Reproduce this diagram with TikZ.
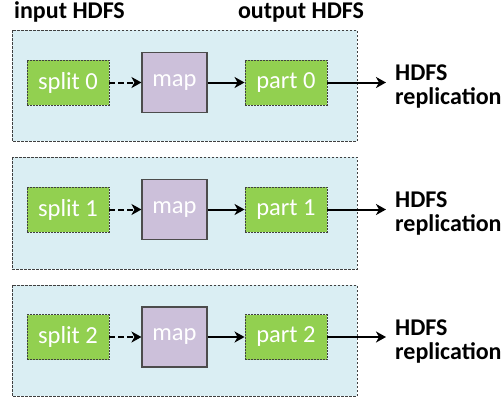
\documentclass[tikz,border=0pt]{standalone}
\usepackage{fontspec}
\setmainfont{Carlito}
\usetikzlibrary{arrows.meta}
\definecolor{panelblue}{HTML}{DAEEF3}
\definecolor{datagreen}{HTML}{92D050}
\definecolor{maplilac}{HTML}{CCC0DA}
\begin{document}
\begin{tikzpicture}[x=1pt,y=-1pt,
  panel/.style={draw=black!75,dash pattern=on 2.5pt off 1.5pt,line width=0.9pt,fill=panelblue},
  databox/.style={draw=black!75,dash pattern=on 2pt off 1pt,line width=0.9pt,fill=datagreen,text=white,
    minimum width=82pt,minimum height=45pt,inner sep=0pt,font=\fontsize{24.5}{25}\selectfont},
  mapbox/.style={draw=black!70,line width=1.1pt,fill=maplilac,text=white,
    minimum width=65pt,minimum height=60pt,inner sep=0pt,font=\fontsize{24.5}{25}\selectfont},
  flow/.style={line width=2pt,-{Stealth[length=10pt,width=11pt,inset=3pt]}},
  hdfstext/.style={font=\bfseries\fontsize{24}{24}\selectfont,align=left,inner sep=0pt}]
\useasboundingbox (0,0) rectangle (504,400);
% headings
\node[hdfstext,anchor=base west] (inhdfs) at (14,18.5) {input HDFS};
\node[hdfstext,anchor=base] (outhdfs) at (301,18.5) {output HDFS};
% panels
\draw[panel] (12,30) rectangle (357,141);
\draw[panel] (12,157) rectangle (357,269);
\draw[panel] (12,285) rectangle (357,396);
% row 0
\node[databox] (split0) at (68,82.5) {split 0};
\node[mapbox] (map0) at (174.5,82.5) {map};
\node[databox] (part0) at (286,82.5) {part 0};
\coordinate (out0) at (386,82.5);
\node[hdfstext,anchor=west] (repl0) at (395,87) {HDFS\\replication};
\draw[flow,dash pattern=on 6pt off 3pt] (split0)--(map0);
\draw[flow] (map0)--(part0);
\draw[flow] (part0)--(out0);
% row 1
\node[databox] (split1) at (68,209.5) {split 1};
\node[mapbox] (map1) at (174.5,209.5) {map};
\node[databox] (part1) at (286,209.5) {part 1};
\coordinate (out1) at (386,209.5);
\node[hdfstext,anchor=west] (repl1) at (395,214) {HDFS\\replication};
\draw[flow,dash pattern=on 6pt off 3pt] (split1)--(map1);
\draw[flow] (map1)--(part1);
\draw[flow] (part1)--(out1);
% row 2
\node[databox] (split2) at (68,337) {split 2};
\node[mapbox] (map2) at (174.5,337) {map};
\node[databox] (part2) at (286,337) {part 2};
\coordinate (out2) at (386,337);
\node[hdfstext,anchor=west] (repl2) at (395,341.5) {HDFS\\replication};
\draw[flow,dash pattern=on 6pt off 3pt] (split2)--(map2);
\draw[flow] (map2)--(part2);
\draw[flow] (part2)--(out2);
\end{tikzpicture}
\end{document}
